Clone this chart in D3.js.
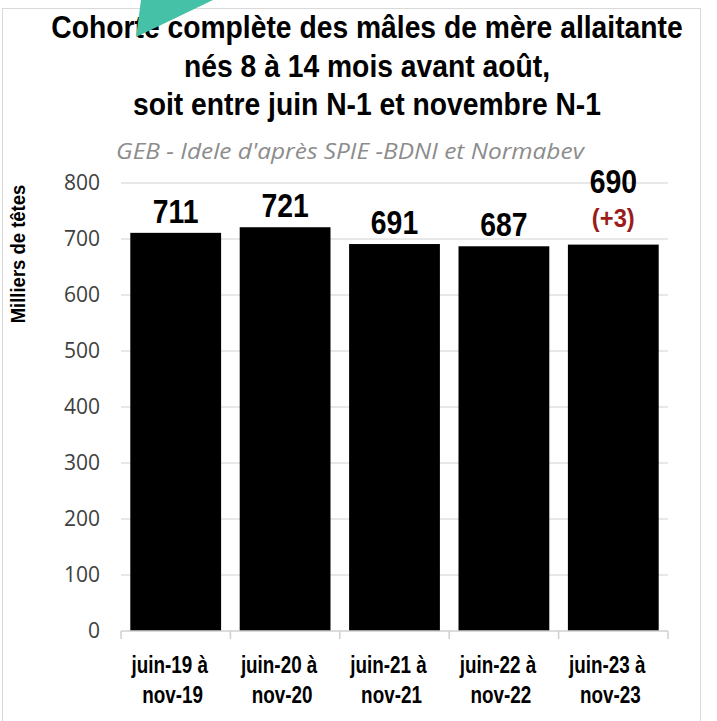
<!DOCTYPE html>
<html><head><meta charset="utf-8">
<script src="https://cdn.jsdelivr.net/npm/d3@7"></script>
<style>body{margin:0;background:#fff}svg{display:block}</style>
</head><body>
<script>
const titleLines = ["Cohorte complète des mâles de mère allaitante","nés 8 à 14 mois avant août,","soit entre juin N-1 et novembre N-1"];
const subtitle = "GEB - Idele d'après SPIE -BDNI et Normabev";
const yLabel = "Milliers de têtes";
const categories = [["juin-19 à","nov-19"],["juin-20 à","nov-20"],["juin-21 à","nov-21"],["juin-22 à","nov-22"],["juin-23 à","nov-23"]];
const values = [711,721,691,687,690];
const notes = ["","","","","(+3)"];
const yTicks = [0,100,200,300,400,500,600,700,800];

const W=717,H=721;
const sans = "'Liberation Sans',Arial,sans-serif";
const svg = d3.select("body").append("svg").attr("width",W).attr("height",H);
svg.append("rect").attr("x",2.5).attr("y",8.5).attr("width",698).attr("height",720).attr("fill","#fff").attr("stroke","#d9d9d9");

function ntext(parent, x, y, txt, k){
  return parent.append("text").attr("transform",`translate(${x},${y}) scale(${k},1)`).text(txt);
}

const m={l:121,r:668,t:183,b:631};
const x=d3.scaleBand().domain(d3.range(values.length)).range([m.l,m.r]).paddingInner(0.17).paddingOuter(0.085);
const y=d3.scaleLinear().domain([0,800]).range([m.b,m.t]);
const cx=i=>x(i)+x.bandwidth()/2;
const gap=(x.step()-x.bandwidth())/2;

// grid
svg.append("g").selectAll("line").data(yTicks.filter(d=>d>0)).join("line")
  .attr("x1",m.l).attr("x2",m.r).attr("y1",d=>y(d)).attr("y2",d=>y(d)).attr("stroke","#e0e0e0").attr("stroke-width",1.5);
// y tick labels
svg.append("g").selectAll("text").data(yTicks).join("text")
  .attr("x",100).attr("y",d=>y(d)).attr("dy","0.35em").attr("text-anchor","end")
  .attr("font-family","'Open Sans',sans-serif").attr("font-size",21).attr("fill","#404040").text(d=>d);
// bars
svg.append("g").selectAll("rect").data(values).join("rect")
  .attr("x",(d,i)=>x(i)).attr("width",x.bandwidth()).attr("y",d=>y(d)).attr("height",d=>y(0)-y(d)).attr("fill","#000");
// x axis
const ax=svg.append("g").attr("stroke","#d0d0d0").attr("stroke-width",1.5);
ax.append("line").attr("x1",m.l).attr("x2",m.r).attr("y1",y(0)).attr("y2",y(0));
const bx=i=>i==0?m.l:(i==values.length?m.r:x(i)-gap);
ax.selectAll("line.t").data(d3.range(values.length+1)).join("line").attr("class","t")
  .attr("x1",bx).attr("x2",bx).attr("y1",y(0)).attr("y2",y(0)+8);
// value labels
const vl=svg.append("g").attr("font-family",sans).attr("font-weight","bold").attr("text-anchor","middle");
values.forEach((d,i)=>{
  ntext(vl, cx(i), notes[i]? y(d)-52 : y(d)-10, d, 0.86).attr("font-size",33).attr("fill","#000");
  if(notes[i]) ntext(vl, cx(i), y(d)-18, notes[i], 0.95).attr("font-size",25).attr("fill","#9b1c1c");
});
// x labels
const xl=svg.append("g").attr("font-family",sans).attr("font-weight","bold").attr("text-anchor","middle").attr("font-size",23).attr("fill","#000");
categories.forEach((c,i)=>{
  c.forEach((s,j)=>ntext(xl, cx(i)-(j==0?6:3), 673+j*30, s, 0.82));
});
// y label
svg.append("text").attr("transform","translate(25,254) rotate(-90) scale(0.88,1)").attr("text-anchor","middle")
  .attr("font-family",sans).attr("font-weight","bold").attr("font-size",21).text(yLabel);
// title
const tg=svg.append("g").attr("font-family",sans).attr("font-weight","bold").attr("font-size",31).attr("text-anchor","middle");
titleLines.forEach((t,i)=>ntext(tg, 367, 38+i*38.5, t, 0.912));
// subtitle
ntext(svg, 350, 159, subtitle, 1.11).attr("text-anchor","middle").attr("font-family","'Open Sans',sans-serif")
  .attr("font-style","italic").attr("font-size",22).attr("fill","#8c8c8c");
// teal arrow shape
svg.append("polygon").attr("points","141,0 213,0 136,37").attr("fill","#45c1a7");
</script>
</body></html>
